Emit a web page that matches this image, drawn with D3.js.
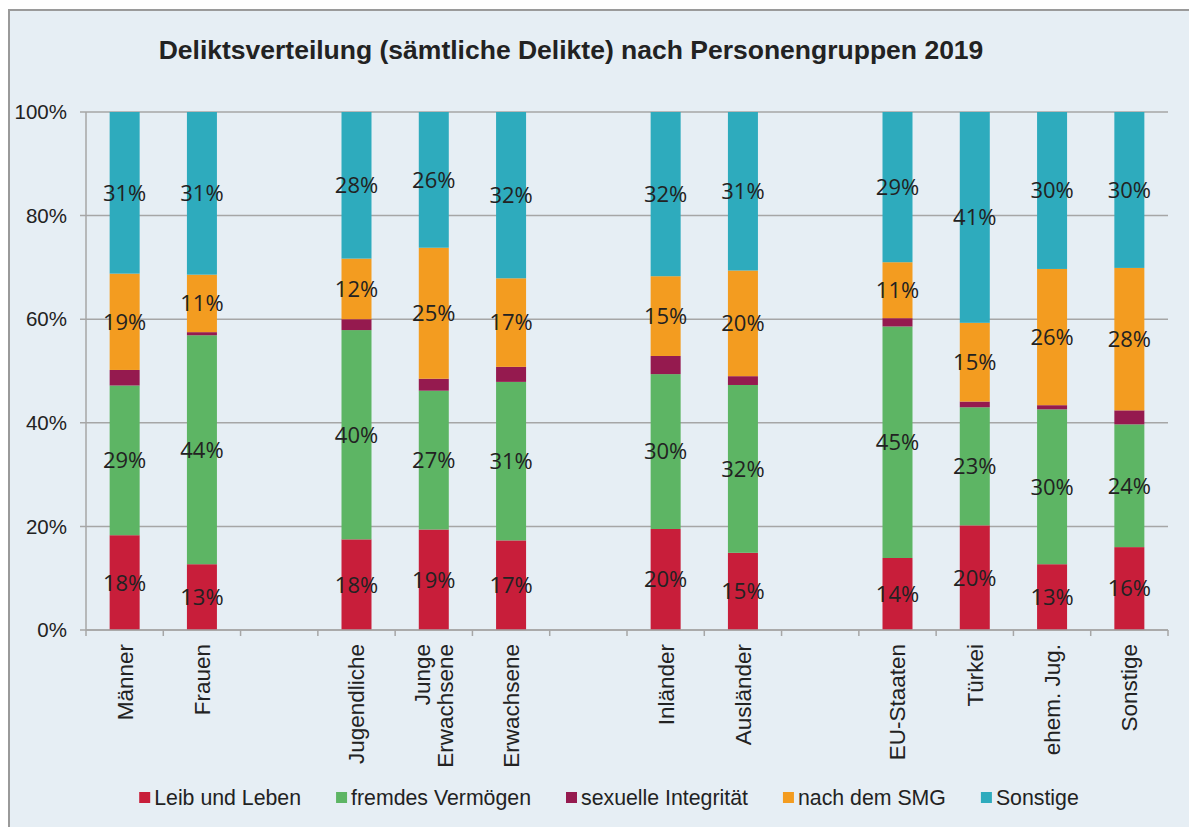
<!DOCTYPE html>
<html>
<head>
<meta charset="utf-8" />
<script src="https://cdn.jsdelivr.net/npm/d3@7"></script>
<style>
  body { margin:0; background:#fff; }
  text { font-family: "Liberation Sans", Arial, sans-serif; fill:#222; }
  .lbl { font-family: "Open Sans", "Noto Sans", sans-serif; }
</style>
</head>
<body>
<svg width="1189" height="827"></svg>
<script>
// Personengruppen (leere Einträge = Lücken zwischen den Gruppen)
var kategorien = ["Männer","Frauen","_1","Jugendliche","Junge|Erwachsene","Erwachsene","_2",
                  "Inländer","Ausländer","_3","EU-Staaten","Türkei","ehem. Jug.","Sonstige"];
var delikte = ["Leib und Leben","fremdes Vermögen","sexuelle Integrität","nach dem SMG","Sonstige"];
var farben = ["#C81E3A","#5DB564","#951A4F","#F39C20","#2EABBD"];

// Anteile in % je Delikt (Reihenfolge wie kategorien ohne Lücken)
var gruppen     = ["Männer","Frauen","Jugendliche","Junge|Erwachsene","Erwachsene","Inländer","Ausländer","EU-Staaten","Türkei","ehem. Jug.","Sonstige"];
var leibLeben   = [18.3, 12.7, 17.5, 19.4, 17.3, 19.5, 14.9, 13.9, 20.2, 12.7, 16.0];
var vermoegen   = [28.9, 44.2, 40.4, 26.8, 30.6, 29.9, 32.4, 44.7, 22.8, 29.9, 23.7];
var sexuell     = [ 3.0,  0.6,  2.1,  2.3,  2.9,  3.5,  1.7,  1.6,  1.1,  0.8,  2.7];
var smg         = [18.6, 11.1, 11.7, 25.3, 17.1, 15.4, 20.4, 10.8, 15.2, 26.3, 27.5];
var sonstige    = [31.2, 31.4, 28.3, 26.2, 32.1, 31.7, 30.6, 29.0, 40.7, 30.3, 30.1];
var yTicks = [0, 20, 40, 60, 80, 100];

var reihen = [leibLeben, vermoegen, sexuell, smg, sonstige];
var daten = gruppen.map(function(g, i) {
  var o = {gruppe: g};
  delikte.forEach(function(d, k) { o[d] = reihen[k][i]; });
  return o;
});

var svg = d3.select("svg");

// Hintergrund mit Rahmen
svg.append("rect").attr("x",9).attr("y",10).attr("width",1185).attr("height",825)
   .attr("fill","#E6EEF4").attr("stroke","#9A9A9A").attr("stroke-width",2);

svg.append("text").attr("x",571).attr("y",59).attr("text-anchor","middle")
   .style("font-size","26.5px").style("font-weight","bold")
   .text("Deliktsverteilung (sämtliche Delikte) nach Personengruppen 2019");

var x = d3.scaleBand().domain(kategorien).range([86,1168]).paddingInner(0).paddingOuter(0);
var y = d3.scaleLinear().domain([0,100]).range([630,112]);
var barW = 30;

// Gitterlinien
svg.append("g").selectAll("line").data(yTicks).enter().append("line")
   .attr("x1",80).attr("x2",1168)
   .attr("y1",function(d){return y(d);}).attr("y2",function(d){return y(d);})
   .attr("stroke","#A6A6A6").attr("stroke-width",1.5);

svg.append("g").selectAll("text").data(yTicks).enter().append("text")
   .attr("x",67).attr("y",function(d){return y(d);}).attr("dy","0.35em")
   .attr("text-anchor","end").style("font-size","20.5px")
   .text(function(d){return d + "%";});

// y-Achse
svg.append("line").attr("x1",86).attr("x2",86).attr("y1",112).attr("y2",630)
   .attr("stroke","#A6A6A6").attr("stroke-width",1.5);

// Balken
var stack = d3.stack().keys(delikte).offset(d3.stackOffsetExpand);
var serien = stack(daten);

var lagen = svg.append("g").selectAll("g").data(serien).enter().append("g")
   .attr("fill",function(d,i){return farben[i];});

lagen.selectAll("rect").data(function(d){return d;}).enter().append("rect")
   .attr("x",function(d){return x(d.data.gruppe) + x.bandwidth()/2 - barW/2;})
   .attr("width",barW)
   .attr("y",function(d){return y(d[1]*100);})
   .attr("height",function(d){return y(d[0]*100) - y(d[1]*100);});

// Beschriftungen (ohne sexuelle Integrität)
serien.forEach(function(s, k) {
  if (k === 2) return;
  svg.append("g").selectAll("text").data(s).enter().append("text")
     .attr("class","lbl")
     .attr("x",function(d){return x(d.data.gruppe) + x.bandwidth()/2;})
     .attr("y",function(d){return y((d[0]+d[1])*50);})
     .attr("dy","0.36em").attr("text-anchor","middle").style("font-size","22px")
     .text(function(d){return Math.round(d.data[s.key]) + "%";});
});

// x-Achse
svg.append("line").attr("x1",86).attr("x2",1168).attr("y1",630).attr("y2",630)
   .attr("stroke","#A6A6A6").attr("stroke-width",1.5);
var grenzen = kategorien.map(function(k){return x(k);}).concat([1168]);
svg.append("g").selectAll("line").data(grenzen).enter().append("line")
   .attr("x1",function(d){return d;}).attr("x2",function(d){return d;})
   .attr("y1",630).attr("y2",636).attr("stroke","#A6A6A6").attr("stroke-width",1.5);

var xl = svg.append("g").selectAll("text").data(gruppen).enter().append("text")
   .attr("transform",function(d){return "translate(" + (x(d) + x.bandwidth()/2) + ",644) rotate(-90)";})
   .attr("text-anchor","end").style("font-size","22.5px");
xl.each(function(d) {
  var zeilen = d.split("|");
  var t = d3.select(this);
  zeilen.forEach(function(z, i) {
    t.append("tspan").attr("x",0)
     .attr("y",(i - (zeilen.length-1)/2) * 23)
     .attr("dy","0.35em").text(z);
  });
});

// Legende
var leg = svg.append("g");
var pos = 0;
delikte.forEach(function(d, i) {
  var g = leg.append("g").attr("transform","translate(" + pos + ",0)");
  g.append("rect").attr("x",0).attr("y",792).attr("width",11).attr("height",11).attr("fill",farben[i]);
  var t = g.append("text").attr("x",15).attr("y",805).style("font-size","21.3px").text(d);
  pos += 15 + t.node().getComputedTextLength() + 35;
});
var breite = pos - 35;
leg.attr("transform","translate(" + (609 - breite/2) + ",0)");
</script>
</body>
</html>
